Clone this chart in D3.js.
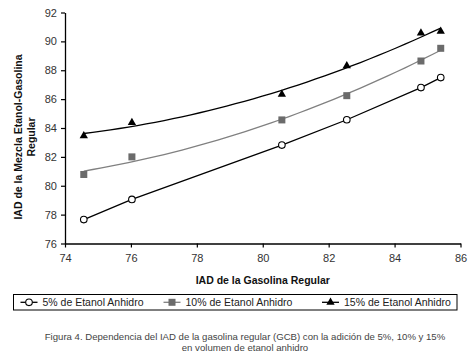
<!DOCTYPE html>
<html>
<head>
<meta charset="utf-8">
<script src="https://cdn.jsdelivr.net/npm/d3@7"></script>
<style>
  body { margin: 0; background: #fff; }
  svg { display: block; }
</style>
</head>
<body>
<div id="chart"></div>
<script>
const iadGasolina = [74.57, 76.03, 80.58, 82.55, 84.8, 85.4];
const etanol5 = [77.66, 79.05, 82.82, 84.57, 86.8, 87.49];
const etanol10 = [80.78, 82.0, 84.56, 86.24, 88.64, 89.52];
const etanol15 = [83.46, 84.38, 86.33, 88.3, 90.57, 90.69];
const xTicks = [74, 76, 78, 80, 82, 84, 86];
const yTicks = [76, 78, 80, 82, 84, 86, 88, 90, 92];
const seriesNames = ['5% de Etanol Anhidro', '10% de Etanol Anhidro', '15% de Etanol Anhidro'];

const width = 471, height = 354;
const margin = { top: 12.5, right: 10.5, bottom: 110.5, left: 65 };

const svg = d3.select('#chart').append('svg')
  .attr('width', width)
  .attr('height', height);

const x = d3.scaleLinear().domain([74, 86]).range([margin.left, width - margin.right]);
const y = d3.scaleLinear().domain([76, 92]).range([height - margin.bottom, margin.top]);

// quadratic least squares, like a spreadsheet trendline
const quadFit = (xs, ys) => {
  const c = 80;
  const s = [0, 0, 0, 0, 0], t = [0, 0, 0];
  xs.forEach((xv, i) => {
    const u = xv - c;
    for (let k = 0; k < 5; k++) s[k] += Math.pow(u, k);
    for (let k = 0; k < 3; k++) t[k] += ys[i] * Math.pow(u, k);
  });
  const m = [[s[0], s[1], s[2], t[0]], [s[1], s[2], s[3], t[1]], [s[2], s[3], s[4], t[2]]];
  for (let i = 0; i < 3; i++) {
    for (let j = i + 1; j < 3; j++) {
      const f = m[j][i] / m[i][i];
      for (let k = i; k < 4; k++) m[j][k] -= f * m[i][k];
    }
  }
  const b = [0, 0, 0];
  for (let i = 2; i >= 0; i--) {
    let v = m[i][3];
    for (let k = i + 1; k < 3; k++) v -= m[i][k] * b[k];
    b[i] = v / m[i][i];
  }
  return xv => b[0] + b[1] * (xv - c) + b[2] * (xv - c) * (xv - c);
};

const axisFont = 'Liberation Sans, Arial, sans-serif';

const yAxis = svg.append('g')
  .attr('transform', `translate(${margin.left},0)`)
  .call(d3.axisLeft(y).tickValues(yTicks).tickSize(4).tickSizeOuter(0).tickPadding(4));
const xAxis = svg.append('g')
  .attr('transform', `translate(0,${height - margin.bottom})`)
  .call(d3.axisBottom(x).tickValues(xTicks).tickSize(4).tickSizeOuter(0).tickPadding(7));

[xAxis, yAxis].forEach(a => {
  a.select('.domain').attr('stroke', '#000').attr('stroke-width', 1.3);
  a.selectAll('.tick line').attr('stroke', '#000').attr('stroke-width', 1.2);
  a.selectAll('.tick text')
    .attr('fill', '#333')
    .style('font-family', axisFont)
    .style('font-size', '11px');
});

svg.append('text')
  .attr('x', (x(74) + x(86)) / 2)
  .attr('y', 284)
  .attr('text-anchor', 'middle')
  .style('font-family', axisFont)
  .style('font-weight', 'bold')
  .style('font-size', '10.5px')
  .attr('fill', '#111')
  .text('IAD de la Gasolina Regular');

const yTitle = svg.append('text')
  .attr('transform', 'translate(18,137) rotate(-90)')
  .attr('text-anchor', 'middle')
  .style('font-family', axisFont)
  .style('font-weight', 'bold')
  .style('font-size', '10.5px')
  .attr('fill', '#111');
yTitle.append('tspan').attr('x', 0).attr('dy', '0.35em').text('IAD de la Mezcla Etanol-Gasolina');
yTitle.append('tspan').attr('x', 0).attr('dy', '1.3em').text('Regular');

const series = [
  { name: seriesNames[0], values: etanol5, color: '#000', marker: 'circle', fit: false },
  { name: seriesNames[1], values: etanol10, color: '#808080', marker: 'square', fit: true },
  { name: seriesNames[2], values: etanol15, color: '#000', marker: 'triangle', fit: true }
];

const line = d3.line().x(d => x(d[0])).y(d => y(d[1]));

const drawMarker = (g, type, cx, cy) => {
  if (type === 'circle') {
    g.append('circle').attr('cx', cx).attr('cy', cy).attr('r', 3.3)
      .attr('fill', '#fff').attr('stroke', '#000').attr('stroke-width', 1.1);
  } else if (type === 'square') {
    g.append('rect').attr('x', cx - 3.5).attr('y', cy - 3.5).attr('width', 7).attr('height', 7)
      .attr('fill', '#6b6b6b');
  } else {
    g.append('path')
      .attr('d', d3.symbol().type(d3.symbolTriangle).size(30)())
      .attr('transform', `translate(${cx},${cy})`)
      .attr('fill', '#000');
  }
};

series.forEach(s => {
  const pts = iadGasolina.map((xv, i) => [xv, s.values[i]]);
  let path = pts;
  if (s.fit) {
    const f = quadFit(iadGasolina, s.values);
    const x0 = iadGasolina[0], x1 = iadGasolina[iadGasolina.length - 1];
    path = d3.range(0, 41).map(i => {
      const xv = x0 + (x1 - x0) * i / 40;
      return [xv, f(xv)];
    });
  }
  svg.append('path')
    .datum(path)
    .attr('fill', 'none')
    .attr('stroke', s.color)
    .attr('stroke-width', 1.3)
    .attr('d', line);
  const g = svg.append('g');
  pts.forEach(p => drawMarker(g, s.marker, x(p[0]), y(p[1])));
});

// legend
svg.append('rect')
  .attr('x', 13.5).attr('y', 294.5)
  .attr('width', 443.5).attr('height', 15.5)
  .attr('fill', 'none').attr('stroke', '#000').attr('stroke-width', 1);

const legendX = [20.5, 163.5, 322];
series.forEach((s, i) => {
  const g = svg.append('g');
  const lx = legendX[i];
  g.append('line')
    .attr('x1', lx).attr('x2', lx + 17)
    .attr('y1', 302.3).attr('y2', 302.3)
    .attr('stroke', s.color).attr('stroke-width', 1.3);
  drawMarker(g, s.marker, lx + 8.5, 302.3);
  g.append('text')
    .attr('x', lx + 22)
    .attr('y', 302.3)
    .attr('dy', '0.35em')
    .style('font-family', axisFont)
    .style('font-size', '10.5px')
    .attr('fill', '#222')
    .text(s.name);
});

// caption
const caption = svg.append('text')
  .attr('text-anchor', 'middle')
  .style('font-family', axisFont)
  .style('font-size', '9.6px')
  .attr('fill', '#444');
caption.append('tspan').attr('x', 245).attr('y', 340)
  .text('Figura 4. Dependencia del IAD de la gasolina regular (GCB) con la adición de 5%, 10% y 15%');
caption.append('tspan').attr('x', 245).attr('y', 351)
  .text('en volumen de etanol anhidro');
</script>
</body>
</html>
